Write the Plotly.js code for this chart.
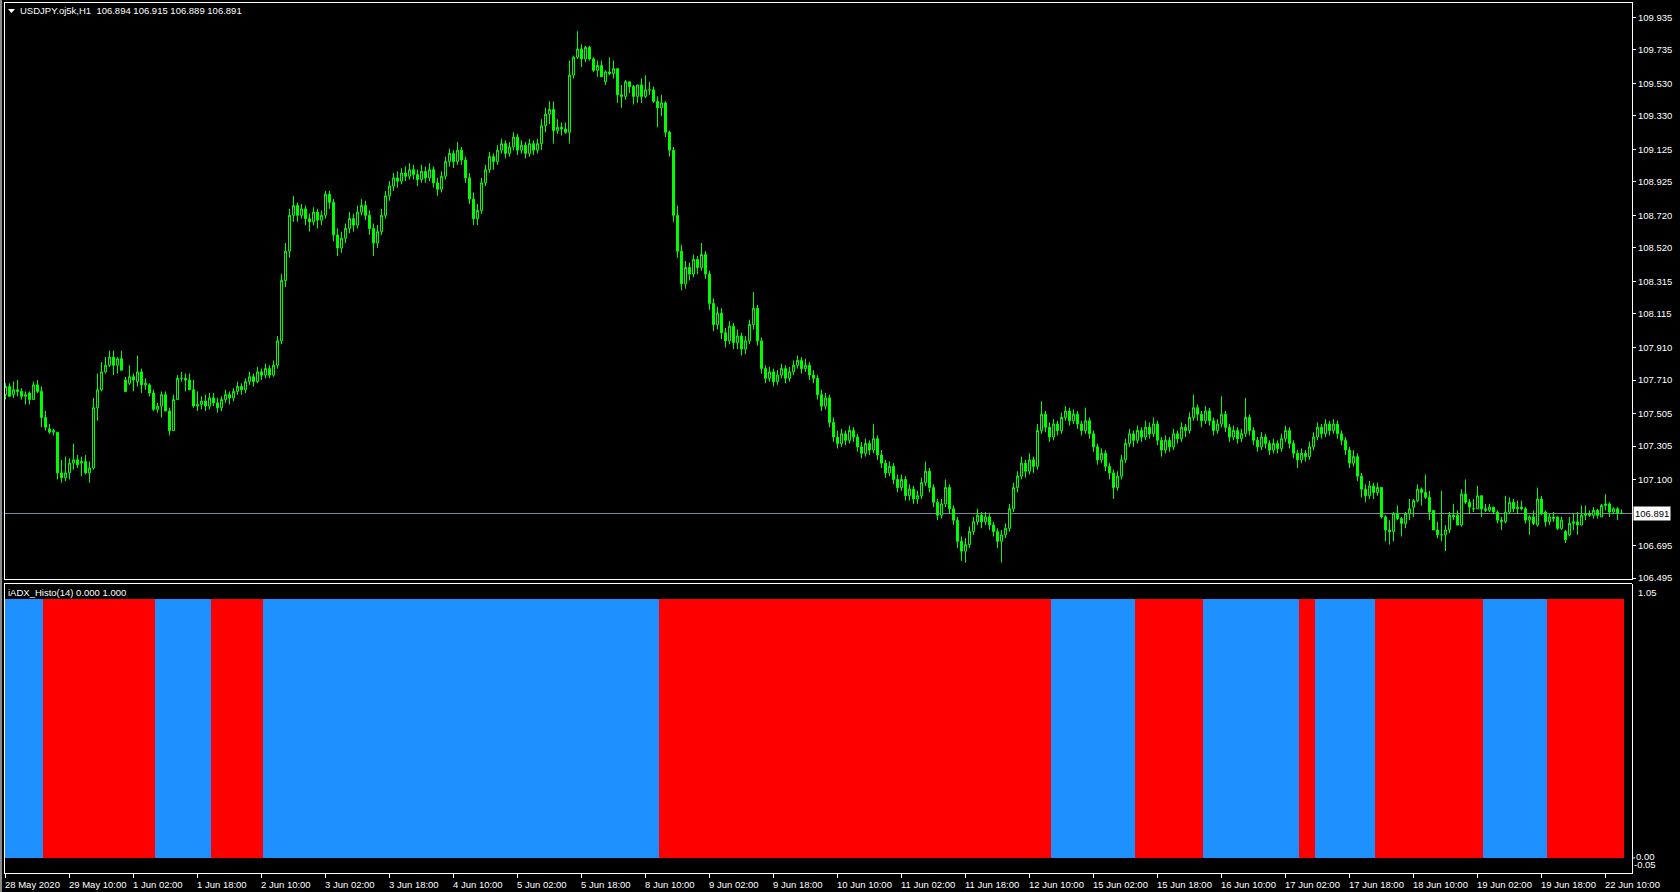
<!DOCTYPE html>
<html>
<head>
<meta charset="utf-8">
<script src="https://cdn.plot.ly/plotly-3.0.1.min.js"></script>
<style>
html,body{margin:0;padding:0;background:#000;overflow:hidden;}
#chart{width:1680px;height:892px;}
</style>
</head>
<body>
<div id="chart"></div>
<script>
// ---------- DATA (USDJPY H1, bar by bar) ----------
const symbolTitle = "USDJPY.oj5k,H1";
const indicatorTitle = "iADX_Histo(14) 0.000 1.000";

const open = [
107.62,107.67,107.62,107.65,107.64,107.61,107.63,107.59,107.68,107.64,
107.48,107.41,107.39,107.39,107.14,107.11,107.14,107.20,107.22,107.20,
107.21,107.14,107.17,107.54,107.65,107.76,107.80,107.85,107.80,107.84,
107.71,107.69,107.73,107.70,107.76,107.68,107.68,107.63,107.53,107.55,
107.62,107.52,107.40,107.59,107.72,107.72,107.71,107.65,107.55,107.56,
107.58,107.55,107.60,107.57,107.54,107.59,107.62,107.60,107.64,107.67,
107.65,107.70,107.73,107.70,107.76,107.74,107.78,107.74,107.80,107.95,
108.32,108.50,108.72,108.78,108.72,108.76,108.70,108.68,108.74,108.69,
108.72,108.85,108.80,108.60,108.52,108.58,108.64,108.70,108.66,108.74,
108.78,108.72,108.64,108.55,108.62,108.72,108.84,108.90,108.95,108.93,
108.98,108.96,109.00,108.97,108.94,108.99,108.95,109.00,108.92,108.88,
108.96,109.05,109.10,109.05,109.12,109.06,108.95,108.82,108.70,108.75,
108.92,109.00,109.08,109.05,109.12,109.16,109.10,109.14,109.20,109.12,
109.15,109.10,109.16,109.12,109.16,109.27,109.34,109.37,109.24,109.26,
109.25,109.23,109.58,109.69,109.74,109.68,109.75,109.68,109.61,109.64,
109.54,109.60,109.59,109.62,109.46,109.45,109.54,109.51,109.45,109.52,
109.45,109.49,109.49,109.42,109.38,109.41,109.23,109.12,108.72,108.50,
108.30,108.40,108.36,108.45,108.40,108.48,108.36,108.18,108.05,108.12,
108.00,107.95,108.04,107.94,107.98,107.90,107.95,108.05,108.15,107.95,
107.78,107.72,107.76,107.70,107.74,107.78,107.72,107.76,107.80,107.83,
107.78,107.80,107.74,107.72,107.62,107.55,107.60,107.45,107.36,107.32,
107.38,107.34,107.40,107.36,107.30,107.26,107.32,107.28,107.35,107.25,
107.20,107.14,107.18,107.10,107.05,107.10,107.00,107.04,106.98,107.00,
107.08,107.15,107.05,106.96,106.88,106.95,107.05,106.92,106.85,106.72,
106.66,106.70,106.78,106.84,106.88,106.84,106.87,106.82,106.78,106.72,
106.76,106.80,106.92,107.05,107.12,107.20,107.15,107.22,107.18,107.40,
107.50,107.42,107.36,107.44,107.40,107.48,107.52,107.46,107.50,107.44,
107.40,107.46,107.38,107.30,107.22,107.26,107.18,107.14,107.05,107.12,
107.22,107.32,107.38,107.34,107.40,107.36,107.42,107.38,107.44,107.34,
107.28,107.34,107.30,107.38,107.35,107.42,107.40,107.48,107.54,107.50,
107.46,107.52,107.46,107.40,107.44,107.50,107.42,107.36,107.40,107.35,
107.38,107.48,107.40,107.34,107.30,107.36,107.32,107.28,107.32,107.29,
107.35,107.40,107.32,107.26,107.22,107.26,107.24,107.30,107.36,107.42,
107.38,107.44,107.40,107.44,107.38,107.34,107.28,107.20,107.24,107.12,
107.04,107.00,107.06,107.02,107.05,106.87,106.79,106.78,106.89,106.86,
106.83,106.89,106.93,106.97,107.04,107.02,106.99,106.91,106.79,106.76,
106.76,106.79,106.88,106.88,106.82,107.01,106.96,106.92,106.92,107.00,
106.92,106.91,106.93,106.90,106.85,106.84,106.90,106.96,106.92,106.93,
106.92,106.85,106.87,106.82,106.98,106.90,106.84,106.87,106.87,106.80,
106.78,106.76,106.83,106.84,106.82,106.88,106.89,106.88,106.91,106.87,
106.94,106.95,106.90,106.92,106.894
];
const high = [
107.69,107.69,107.70,107.71,107.66,107.64,107.64,107.70,107.71,107.67,
107.52,107.44,107.41,107.39,107.22,107.24,107.23,107.32,107.25,107.24,
107.25,107.21,107.60,107.75,107.82,107.85,107.89,107.89,107.85,107.89,
107.73,107.80,107.75,107.86,107.78,107.72,107.69,107.65,107.57,107.64,
107.64,107.54,107.62,107.74,107.76,107.75,107.75,107.71,107.64,107.61,
107.62,107.63,107.63,107.60,107.61,107.65,107.64,107.66,107.70,107.69,
107.72,107.76,107.75,107.79,107.78,107.81,107.80,107.83,107.98,108.36,
108.55,108.76,108.84,108.80,108.79,108.78,108.73,108.77,108.76,108.75,
108.87,108.87,108.82,108.64,108.62,108.67,108.74,108.73,108.78,108.82,
108.81,108.75,108.67,108.66,108.76,108.87,108.93,108.98,108.99,109.01,
109.02,109.04,109.03,109.00,109.03,109.02,109.04,109.02,108.95,108.99,
109.08,109.13,109.12,109.17,109.14,109.08,108.98,108.86,108.79,108.95,
109.03,109.11,109.10,109.15,109.19,109.18,109.17,109.23,109.22,109.18,
109.17,109.19,109.18,109.19,109.31,109.38,109.42,109.42,109.31,109.29,
109.29,109.67,109.70,109.85,109.77,109.76,109.76,109.69,109.67,109.67,
109.61,109.69,109.67,109.62,109.52,109.55,109.54,109.52,109.52,109.56,
109.58,109.54,109.51,109.45,109.46,109.42,109.24,109.14,108.78,108.54,
108.44,108.43,108.48,108.47,108.55,108.50,108.38,108.21,108.16,108.15,
108.03,108.07,108.06,108.02,108.00,107.98,108.08,108.25,108.17,107.97,
107.80,107.79,107.78,107.77,107.81,107.80,107.79,107.83,107.86,107.85,
107.84,107.82,107.77,107.74,107.65,107.63,107.62,107.48,107.40,107.41,
107.40,107.43,107.42,107.38,107.33,107.35,107.34,107.44,107.37,107.28,
107.22,107.21,107.20,107.13,107.13,107.12,107.07,107.06,107.03,107.11,
107.21,107.17,107.07,106.98,106.98,107.10,107.07,106.94,106.87,106.75,
106.74,106.81,106.87,106.92,106.90,106.90,106.89,106.84,106.80,106.79,
106.83,106.95,107.08,107.15,107.24,107.22,107.26,107.24,107.44,107.58,
107.52,107.45,107.47,107.46,107.51,107.55,107.54,107.53,107.52,107.46,
107.54,107.48,107.40,107.32,107.29,107.28,107.20,107.16,107.15,107.25,
107.35,107.41,107.40,107.43,107.42,107.46,107.45,107.48,107.46,107.36,
107.37,107.36,107.41,107.40,107.45,107.44,107.51,107.62,107.56,107.52,
107.55,107.54,107.48,107.47,107.61,107.52,107.44,107.43,107.42,107.41,
107.60,107.50,107.42,107.36,107.39,107.38,107.34,107.35,107.34,107.38,
107.43,107.42,107.34,107.28,107.29,107.28,107.33,107.39,107.45,107.44,
107.47,107.46,107.47,107.46,107.40,107.36,107.30,107.28,107.26,107.14,
107.07,107.09,107.08,107.08,107.05,106.88,106.85,106.90,106.94,106.87,
106.90,106.98,106.98,107.07,107.05,107.13,107.03,106.91,106.84,107.03,
106.82,106.90,106.95,106.91,107.04,107.10,106.98,106.98,107.06,107.00,
106.95,106.95,106.93,106.91,106.87,107.00,106.99,106.98,106.97,106.97,
106.93,106.88,106.91,107.05,107.00,106.91,106.89,106.90,106.87,106.87,
106.79,106.87,106.89,106.90,106.94,106.94,106.91,106.93,106.92,106.95,
107.01,106.96,106.93,106.93,106.915
];
const low = [
107.59,107.61,107.60,107.61,107.59,107.56,107.56,107.59,107.63,107.42,
107.40,107.38,107.37,107.10,107.08,107.09,107.10,107.16,107.17,107.12,
107.13,107.08,107.16,107.46,107.64,107.75,107.79,107.74,107.75,107.77,
107.64,107.68,107.64,107.67,107.63,107.65,107.61,107.52,107.51,107.48,
107.52,107.37,107.40,107.59,107.70,107.64,107.65,107.54,107.52,107.53,
107.52,107.53,107.55,107.51,107.52,107.57,107.56,107.58,107.62,107.62,
107.63,107.68,107.67,107.69,107.71,107.72,107.72,107.73,107.78,107.93,
108.28,108.46,108.68,108.68,108.70,108.66,108.62,108.66,108.64,108.66,
108.70,108.76,108.56,108.47,108.49,108.55,108.61,108.62,108.64,108.72,
108.69,108.60,108.47,108.52,108.60,108.70,108.81,108.87,108.89,108.91,
108.93,108.94,108.94,108.90,108.92,108.92,108.93,108.89,108.84,108.86,
108.94,109.02,109.01,109.03,109.03,108.92,108.79,108.66,108.66,108.73,
108.90,108.98,109.00,109.03,109.10,109.07,109.08,109.12,109.09,109.10,
109.07,109.08,109.09,109.10,109.12,109.23,109.28,109.16,109.22,109.21,
109.22,109.16,109.56,109.68,109.63,109.66,109.67,109.60,109.57,109.57,
109.52,109.58,109.56,109.41,109.38,109.43,109.47,109.40,109.41,109.41,
109.44,109.46,109.41,109.26,109.33,109.20,109.08,108.68,108.46,108.26,
108.27,108.32,108.34,108.36,108.38,108.33,108.14,108.01,108.02,107.96,
107.91,107.93,107.90,107.90,107.86,107.87,107.93,108.02,107.92,107.75,
107.69,107.70,107.67,107.68,107.72,107.69,107.70,107.74,107.78,107.75,
107.76,107.71,107.69,107.59,107.52,107.53,107.42,107.33,107.29,107.30,
107.31,107.32,107.33,107.27,107.23,107.24,107.25,107.26,107.22,107.17,
107.11,107.12,107.07,107.02,107.03,106.97,106.97,106.95,106.95,106.98,
107.06,107.02,106.93,106.85,106.86,106.93,106.89,106.82,106.68,106.60,
106.59,106.68,106.76,106.82,106.80,106.82,106.79,106.75,106.68,106.59,
106.74,106.78,106.90,107.02,107.10,107.11,107.13,107.14,107.16,107.38,
107.39,107.33,107.34,107.37,107.38,107.46,107.43,107.44,107.41,107.37,
107.38,107.35,107.27,107.19,107.20,107.15,107.10,106.98,107.03,107.10,
107.20,107.30,107.30,107.32,107.33,107.34,107.35,107.36,107.31,107.24,
107.26,107.27,107.28,107.32,107.33,107.36,107.38,107.46,107.46,107.42,
107.44,107.43,107.37,107.38,107.42,107.39,107.33,107.34,107.32,107.33,
107.36,107.37,107.31,107.27,107.28,107.29,107.25,107.26,107.26,107.27,
107.33,107.29,107.23,107.17,107.20,107.21,107.22,107.28,107.34,107.35,
107.36,107.37,107.38,107.35,107.31,107.25,107.17,107.18,107.09,106.99,
106.96,106.98,106.98,107.00,106.86,106.72,106.70,106.72,106.85,106.75,
106.80,106.85,106.87,106.96,106.94,106.98,106.85,106.79,106.74,106.72,
106.66,106.77,106.85,106.82,106.81,106.95,106.89,106.90,106.92,106.87,
106.90,106.90,106.89,106.83,106.79,106.83,106.89,106.90,106.89,106.91,
106.83,106.76,106.82,106.81,106.88,106.81,106.82,106.84,106.79,106.79,
106.71,106.75,106.79,106.76,106.82,106.85,106.87,106.86,106.86,106.87,
106.91,106.87,106.89,106.85,106.889
];
const close = [
107.67,107.61,107.65,107.64,107.61,107.62,107.59,107.68,107.64,107.48,
107.42,107.39,107.40,107.14,107.11,107.14,107.20,107.22,107.19,107.21,
107.14,107.17,107.54,107.65,107.76,107.80,107.85,107.80,107.84,107.77,
107.64,107.73,107.71,107.76,107.68,107.69,107.63,107.53,107.55,107.62,
107.52,107.40,107.59,107.72,107.72,107.71,107.65,107.55,107.56,107.58,
107.55,107.60,107.57,107.54,107.59,107.62,107.60,107.64,107.67,107.65,
107.70,107.73,107.70,107.76,107.74,107.78,107.74,107.80,107.95,108.32,
108.50,108.72,108.78,108.72,108.76,108.70,108.68,108.74,108.69,108.72,
108.85,108.80,108.60,108.52,108.58,108.64,108.70,108.66,108.74,108.78,
108.72,108.64,108.55,108.62,108.72,108.84,108.90,108.95,108.93,108.98,
108.96,109.00,108.97,108.94,108.99,108.95,109.00,108.92,108.88,108.96,
109.05,109.10,109.05,109.12,109.06,108.95,108.82,108.70,108.75,108.92,
109.00,109.08,109.05,109.12,109.16,109.10,109.14,109.20,109.12,109.15,
109.10,109.16,109.12,109.16,109.27,109.34,109.37,109.24,109.26,109.25,
109.23,109.58,109.69,109.74,109.68,109.75,109.68,109.61,109.64,109.57,
109.60,109.59,109.62,109.46,109.45,109.54,109.51,109.45,109.52,109.45,
109.49,109.49,109.42,109.38,109.41,109.23,109.12,108.72,108.50,108.30,
108.40,108.36,108.45,108.40,108.48,108.36,108.18,108.05,108.12,108.00,
107.95,108.04,107.94,107.98,107.90,107.95,108.05,108.15,107.95,107.78,
107.72,107.76,107.70,107.74,107.78,107.72,107.76,107.80,107.83,107.78,
107.80,107.74,107.72,107.62,107.55,107.60,107.45,107.36,107.32,107.38,
107.34,107.40,107.36,107.30,107.26,107.32,107.28,107.35,107.25,107.20,
107.14,107.18,107.10,107.05,107.10,107.00,107.04,106.98,107.00,107.08,
107.15,107.05,106.96,106.88,106.95,107.05,106.92,106.85,106.72,106.66,
106.70,106.78,106.84,106.88,106.84,106.87,106.82,106.78,106.72,106.76,
106.80,106.92,107.05,107.12,107.20,107.15,107.22,107.18,107.40,107.50,
107.42,107.36,107.44,107.40,107.48,107.52,107.46,107.50,107.44,107.40,
107.46,107.38,107.30,107.22,107.26,107.18,107.14,107.05,107.12,107.22,
107.32,107.38,107.34,107.40,107.36,107.42,107.38,107.44,107.34,107.28,
107.34,107.30,107.38,107.35,107.42,107.40,107.48,107.54,107.50,107.46,
107.52,107.46,107.40,107.44,107.50,107.42,107.36,107.40,107.35,107.38,
107.48,107.40,107.34,107.30,107.36,107.32,107.28,107.32,107.29,107.35,
107.40,107.32,107.26,107.22,107.26,107.24,107.30,107.36,107.42,107.38,
107.44,107.40,107.44,107.38,107.34,107.28,107.20,107.24,107.12,107.04,
107.00,107.06,107.02,107.05,106.87,106.79,106.78,106.89,106.86,106.83,
106.89,106.92,106.97,107.04,107.02,106.99,106.90,106.79,106.76,106.76,
106.79,106.88,106.87,106.82,107.01,106.96,106.93,106.92,107.00,106.92,
106.91,106.93,106.90,106.85,106.84,106.90,106.96,106.92,106.93,106.92,
106.85,106.87,106.83,106.98,106.89,106.84,106.87,106.86,106.80,106.85,
106.73,106.83,106.84,106.82,106.88,106.89,106.88,106.91,106.88,106.94,
106.95,106.90,106.92,106.894,106.891
];

// iADX_Histo(14): first bar of each colour run, and its state (1 = up / blue, 0 = down / red)
const histoRunStart = [0, 10, 38, 52, 65, 164, 262, 283, 300, 324, 328, 343, 370, 386];
const histoRunUp    = [1, 0, 1, 0, 1, 0, 1, 0, 1, 0, 1, 0, 1, 0];
const histoLevel = 1.0;

// right price scale labels
const priceTicks = [109.935,109.735,109.530,109.330,109.125,108.925,108.720,108.520,108.315,108.115,107.910,107.710,107.505,107.305,107.100,106.695,106.495];
const priceTickText = ["109.935","109.735","109.530","109.330","109.125","108.925","108.720","108.520","108.315","108.115","107.910","107.710","107.505","107.305","107.100","106.695","106.495"];

// time scale labels (bar index -> text)
const timeTickBars = [0,16,32,48,64,80,96,112,128,144,160,176,192,208,224,240,256,272,288,304,320,336,352,368,384,400];
const timeTickText = ["28 May 2020","29 May 10:00","1 Jun 02:00","1 Jun 18:00","2 Jun 10:00","3 Jun 02:00","3 Jun 18:00","4 Jun 10:00","5 Jun 02:00","5 Jun 18:00","8 Jun 10:00","9 Jun 02:00","9 Jun 18:00","10 Jun 10:00","11 Jun 02:00","11 Jun 18:00","12 Jun 10:00","15 Jun 02:00","15 Jun 18:00","16 Jun 10:00","17 Jun 02:00","17 Jun 18:00","18 Jun 10:00","19 Jun 02:00","19 Jun 18:00","22 Jun 10:00"];

// indicator scale labels
const histoScaleLabels = ["1.05", "0.00", "-0.05"];

// ---------- BUILD ----------
const W = 1680, H = 892;
const px = x => x / W;
const py = y => 1 - y / H;
const FONT = 'Liberation Sans, Arial, sans-serif';
const GREEN = '#00ff00', BLUE = '#1e90ff', RED = '#ff0000';

const n = close.length;
const bars = [];
for (let i = 0; i < n; i++) bars.push(i);

const histoVal = [], histoCol = [];
for (let r = 0; r < histoRunStart.length; r++) {
  const s = histoRunStart[r];
  const e = r + 1 < histoRunStart.length ? histoRunStart[r + 1] : n;
  for (let i = s; i < e; i++) {
    histoVal.push(histoLevel);
    histoCol.push(histoRunUp[r] ? BLUE : RED);
  }
}

const last = close[n - 1];
const lastO = open[n - 1], lastH = high[n - 1], lastL = low[n - 1];

const traces = [
  {
    type: 'candlestick', x: bars, open: open, high: high, low: low, close: close,
    xaxis: 'x', yaxis: 'y',
    increasing: { line: { color: GREEN, width: 1 }, fillcolor: '#000000' },
    decreasing: { line: { color: GREEN, width: 1 }, fillcolor: GREEN },
    whiskerwidth: 0, hoverinfo: 'skip', showlegend: false
  },
  {
    type: 'bar', x: bars, y: histoVal, width: 1.15,
    marker: { color: histoCol, line: { width: 0 } },
    xaxis: 'x', yaxis: 'y2', hoverinfo: 'skip', showlegend: false
  }
];

const white = '#ffffff';
const shapes = [
  // left grey strip
  { type: 'rect', xref: 'paper', yref: 'paper', x0: 0, x1: px(2), y0: 0, y1: 1, fillcolor: '#8a8a8a', line: { width: 0 } },
  // main window frame
  { type: 'line', xref: 'paper', yref: 'paper', x0: px(4), x1: px(1632), y0: py(2.5), y1: py(2.5), line: { color: white, width: 1 } },
  { type: 'line', xref: 'paper', yref: 'paper', x0: px(4.5), x1: px(4.5), y0: py(2), y1: py(580), line: { color: white, width: 1 } },
  { type: 'line', xref: 'paper', yref: 'paper', x0: px(4), x1: px(1632), y0: py(579.5), y1: py(579.5), line: { color: white, width: 1 } },
  // indicator window frame
  { type: 'line', xref: 'paper', yref: 'paper', x0: px(4), x1: px(1632), y0: py(583.5), y1: py(583.5), line: { color: white, width: 1 } },
  { type: 'line', xref: 'paper', yref: 'paper', x0: px(4.5), x1: px(4.5), y0: py(583), y1: py(873), line: { color: white, width: 1 } },
  // current price line
  { type: 'line', xref: 'paper', yref: 'y', x0: px(5), x1: px(1632), y0: last, y1: last, line: { color: '#778899', width: 1 }, layer: 'below' },
  // symbol menu triangle
  { type: 'path', xref: 'paper', yref: 'paper',
    path: 'M ' + px(8) + ' ' + py(9) + ' L ' + px(15) + ' ' + py(9) + ' L ' + px(11.5) + ' ' + py(13) + ' Z',
    fillcolor: white, line: { width: 0 } },
  // indicator scale tick marks
  { type: 'line', xref: 'paper', yref: 'y2', x0: px(1632), x1: px(1635), y0: 0, y1: 0, line: { color: white, width: 1 } }
];

const fmt = v => v.toFixed(3);
const nb = '\u00a0';
const annotations = [
  { xref: 'paper', yref: 'paper', x: px(18), y: py(10.5), xanchor: 'left', yanchor: 'middle', showarrow: false,
    text: symbolTitle + nb + nb + fmt(lastO) + ' ' + fmt(lastH) + ' ' + fmt(lastL) + ' ' + fmt(last),
    font: { family: FONT, size: 9.5, color: white } },
  { xref: 'paper', yref: 'paper', x: px(6), y: py(592), xanchor: 'left', yanchor: 'middle', showarrow: false,
    text: indicatorTitle, font: { family: FONT, size: 9.5, color: white } },
  { xref: 'paper', yref: 'paper', x: px(1636), y: py(592), xanchor: 'left', yanchor: 'middle', showarrow: false,
    text: histoScaleLabels[0], font: { family: FONT, size: 9.5, color: white } },
  { xref: 'paper', yref: 'paper', x: px(1634), y: py(856.5), xanchor: 'left', yanchor: 'middle', showarrow: false,
    text: histoScaleLabels[1], font: { family: FONT, size: 9.5, color: white } },
  { xref: 'paper', yref: 'paper', x: px(1632), y: py(864.5), xanchor: 'left', yanchor: 'middle', showarrow: false,
    text: histoScaleLabels[2], font: { family: FONT, size: 9.5, color: white } },
  // price label box
  { xref: 'paper', yref: 'y', x: px(1633), y: last, xanchor: 'left', yanchor: 'middle', showarrow: false,
    text: fmt(last), bgcolor: white, borderpad: 1, font: { family: FONT, size: 9.5, color: '#000000' } }
];
for (let k = 0; k < timeTickBars.length; k++) {
  annotations.push({ xref: 'x', yref: 'paper', x: timeTickBars[k], y: py(884), xanchor: 'left', yanchor: 'middle',
    xshift: -3, showarrow: false, text: timeTickText[k], font: { family: FONT, size: 9.5, color: white } });
}

const layout = {
  width: W, height: H, margin: { l: 0, r: 0, t: 0, b: 0 },
  paper_bgcolor: '#000000', plot_bgcolor: '#000000', showlegend: false,
  font: { family: FONT, size: 9.5, color: white },
  bargap: 0,
  xaxis: {
    domain: [px(4), px(1632)], range: [-0.375, 406.625], anchor: 'y2',
    showgrid: false, zeroline: false, showline: true, linecolor: white, linewidth: 1,
    ticks: 'outside', ticklen: 4, tickcolor: white, tickwidth: 1,
    tickmode: 'array', tickvals: timeTickBars, showticklabels: false,
    rangeslider: { visible: false }, fixedrange: true
  },
  yaxis: {
    domain: [py(580), py(2)], range: [106.483, 110.029], side: 'right', anchor: 'x',
    showgrid: false, zeroline: false, showline: true, linecolor: white, linewidth: 1,
    ticks: 'outside', ticklen: 3, tickcolor: white, tickwidth: 1,
    tickmode: 'array', tickvals: priceTicks, ticktext: priceTickText,
    tickfont: { family: FONT, size: 9.5, color: white }, fixedrange: true
  },
  yaxis2: {
    domain: [py(873), py(584)], range: [-0.058, 1.058], side: 'right', anchor: 'x',
    showgrid: false, zeroline: false, showline: true, linecolor: white, linewidth: 1,
    ticks: '', showticklabels: false, fixedrange: true
  },
  shapes: shapes,
  annotations: annotations
};

Plotly.newPlot('chart', traces, layout, { staticPlot: true, displayModeBar: false });
</script>
</body>
</html>
